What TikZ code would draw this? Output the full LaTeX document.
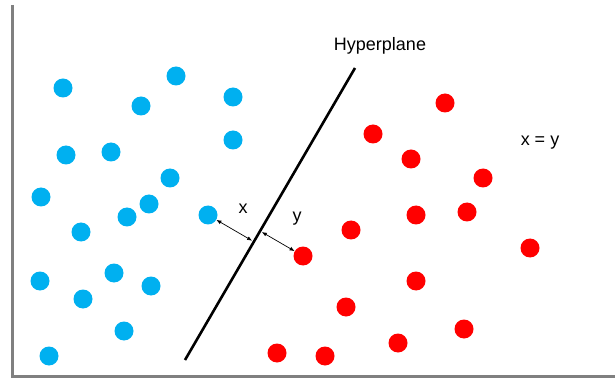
\documentclass[tikz,border=0pt]{standalone}
\usepackage{fontspec}
\setmainfont{Liberation Sans}
\usepackage{xcolor}
\usepackage{tikz}
\usetikzlibrary{positioning, arrows.meta, calc}

\definecolor{dotblue}{RGB}{0,176,240}
\definecolor{dotred}{RGB}{255,0,0}
\definecolor{axisgray}{RGB}{128,128,128}

\begin{document}
\begin{tikzpicture}[
    x=1pt, y=-1pt,
    bdot/.style={circle, fill=dotblue, inner sep=0pt, minimum size=19pt},
    rdot/.style={circle, fill=dotred, inner sep=0pt, minimum size=19pt},
    label/.style={font=\fontsize{18}{21}\selectfont, inner sep=1pt},
    plane/.style={line width=2.6pt, draw=black},
    dist/.style={{Latex[length=5pt,width=4pt]}-{Latex[length=5pt,width=4pt]}, line width=0.7pt, draw=black}
]
    \useasboundingbox (0,0) rectangle (615,379);

    % axes
    \draw [line width=3pt, draw=axisgray] (12,5) -- (12,376) -- (615,376);

    % blue class
    \foreach \px/\py [count=\i] in {63/88, 141/106, 176/76, 233/97, 233/140, 66/155, 111/152, 170/178, 41/197, 149/204, 127/217, 81/232, 208/215, 40/281, 114/273, 151/286, 83/299, 124/331, 49/356}
        \node [bdot] (b\i) at (\px,\py) {};

    % red class
    \foreach \px/\py [count=\i] in {445/103, 373/134, 411/159, 483/178, 416/215, 467/212, 351/230, 303/256, 530/248, 416/281, 346/307, 464/329, 398/343, 277/353, 325/356}
        \node [rdot] (r\i) at (\px,\py) {};

    % hyperplane
    \coordinate (hpA) at (185,360);
    \coordinate (hpB) at (355,68);
    \draw [plane] (hpA) -- (hpB);
    \node [label] (hplabel) at (380,46) {Hyperplane};

    % margins
    \coordinate (fx) at ($(hpA)!(b13)!(hpB)$);
    \coordinate (fy) at ($(hpA)!(r8)!(hpB)$);
    \draw [dist, shorten >=2pt] (b13) -- (fx);
    \draw [dist, shorten >=2pt] (r8) -- (fy);
    \node [label] (xlabel) at (243,209) {x};
    \node [label] (ylabel) at (297,219) {y};
    \node [label] (eqlabel) at (540,143) {x = y};
\end{tikzpicture}
\end{document}
